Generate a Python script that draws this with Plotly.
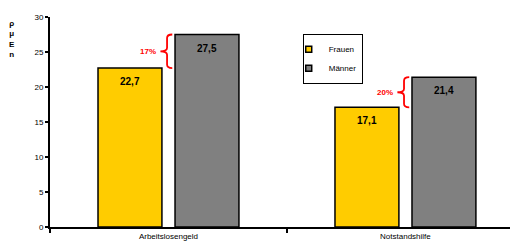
import plotly.graph_objects as go

categories = ["Arbeitslosengeld", "Notstandshilfe"]
frauen = [22.7, 17.1]
maenner = [27.5, 21.4]
value_labels_f = ["22,7", "17,1"]
value_labels_m = ["27,5", "21,4"]
series_names = ["Frauen", "Männer"]
series_colors = ["#FFCC00", "#808080"]
y_ticks = [0, 5, 10, 15, 20, 25, 30]

FONT = "Liberation Sans, Arial, sans-serif"
xpos = list(range(len(categories)))
OFF = 0.1625  # half distance between bar centres within a group

fig = go.Figure()
for vals, name, col in [(frauen, series_names[0], series_colors[0]),
                        (maenner, series_names[1], series_colors[1])]:
    fig.add_trace(go.Bar(
        x=xpos, y=vals, name=name, showlegend=False,
        marker=dict(color=col, line=dict(color="black", width=1.5)),
        hoverinfo="skip"))
# legend entries with small square markers
for name, col in zip(series_names, series_colors):
    fig.add_trace(go.Scatter(
        x=[None], y=[None], mode="markers", name=name,
        marker=dict(symbol="square", size=6, color=col,
                    line=dict(color="black", width=1.5))))

# value labels inside bars, below the top
for i in xpos:
    for vals, labels, sgn in [(frauen, value_labels_f, -1), (maenner, value_labels_m, 1)]:
        fig.add_annotation(x=i + sgn * OFF, y=vals[i], xref="x", yref="y",
                           text=labels[i], showarrow=False, yanchor="top",
                           yshift=-6,
                           font=dict(family=FONT, size=10, color="black", weight="bold"))


def brace_path(xc, y0, y1):
    ym = (y0 + y1) / 2
    xs = xc
    xe = xc + 0.022
    xt = xc - 0.028
    h = 0.5
    return (f"M {xe},{y1} Q {xs},{y1} {xs},{y1-h} L {xs},{ym+h} "
            f"Q {xs},{ym} {xt},{ym} Q {xs},{ym} {xs},{ym-h} "
            f"L {xs},{y0+h} Q {xs},{y0} {xe},{y0}")


for i in xpos:
    lo, hi = frauen[i], maenner[i]
    pct = round((hi - lo) / hi * 100)
    xc = i - 0.006
    fig.add_shape(type="path", path=brace_path(xc, lo, hi), xref="x", yref="y",
                  line=dict(color="red", width=1.8))
    fig.add_annotation(x=xc - 0.04, y=(lo + hi) / 2, xref="x", yref="y",
                       text=f"{pct}%", showarrow=False, xanchor="right",
                       font=dict(family=FONT, size=8, color="red", weight="bold"))

fig.add_annotation(x=-42 / 468, y=1.0, xref="paper", yref="paper",
                   text="<b>ρ<br>μ<br>E<br>n</b>", showarrow=False, xanchor="left",
                   yanchor="top", align="center", xshift=-1,
                   font=dict(family=FONT, size=8, color="black"))

fig.update_layout(
    width=510, height=243,
    margin=dict(l=42, r=0, t=9, b=24),
    paper_bgcolor="white", plot_bgcolor="white",
    barmode="group", bargap=0.35, bargroupgap=0.17,
    font=dict(family=FONT, size=8, color="black"),
    legend=dict(x=0.54, y=0.92, xanchor="left", yanchor="top",
                bordercolor="black", borderwidth=1, bgcolor="white",
                font=dict(family=FONT, size=8, color="black"),
                itemwidth=30, tracegroupgap=0, indentation=-15,
                itemsizing="trace"),
    xaxis=dict(range=[-0.5, 1.475], tickmode="array", tickvals=xpos,
               ticktext=categories, ticks="", showgrid=False, zeroline=False,
               showline=True, linecolor="black", linewidth=2,
               tickfont=dict(family=FONT, size=8, color="black"),
               minor=dict(tickmode="array", tickvals=[-0.5, 0.5], ticks="outside",
                          ticklen=4, tickcolor="black", tickwidth=1.5, showgrid=False),
               fixedrange=True),
    yaxis=dict(range=[0, 30], tickmode="array", tickvals=y_ticks,
               ticks="outside", ticklen=3, tickcolor="black", tickwidth=1.5,
               showgrid=False, zeroline=False, showline=True, linecolor="black",
               linewidth=2, tickfont=dict(family=FONT, size=8, color="black"),
               fixedrange=True),
    showlegend=True,
)

fig.write_html("out.html", config={"displayModeBar": False})
